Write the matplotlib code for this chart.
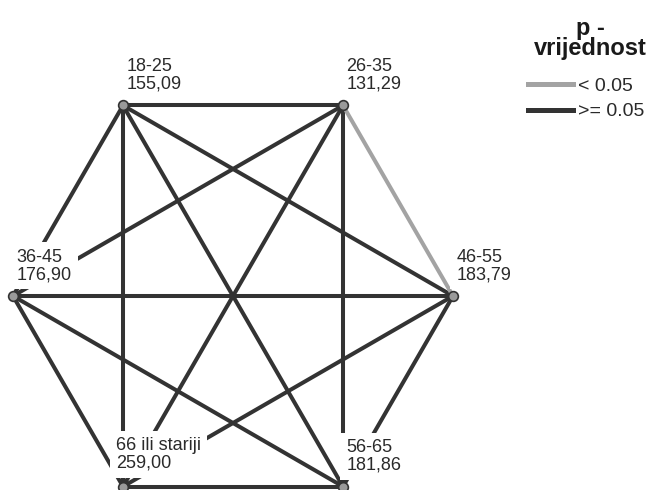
import itertools
import numpy as np
import matplotlib
matplotlib.use("Agg")
import matplotlib.pyplot as plt
from matplotlib.lines import Line2D

plt.rcParams["font.family"] = ["Liberation Sans", "DejaVu Sans"]

# grupe redom po vrhovima sesterokuta (gore lijevo, u smjeru kazaljke)
grupe = ["18-25", "26-35", "46-55", "56-65", "66 ili stariji", "36-45"]
srednji_rang = [155.09, 131.29, 183.79, 181.86, 259.00, 176.90]
znacajni = [("26-35", "46-55")]   # p < 0.05

TAMNA = "#333333"
SIVA = "#a3a3a3"

fig = plt.figure(figsize=(6.54, 4.9), dpi=100)
ax = fig.add_axes([0, 0, 1, 1])
ax.set_xlim(0, 654)
ax.set_ylim(490, 0)
ax.axis("off")

# raspored vrhova: pravilni sesterokut
centar = np.array([233.0, 296.0])
r = 220.0
kutovi = np.deg2rad([120, 60, 0, -60, -120, 180])
pos = {g: centar + r * np.array([np.cos(a), -np.sin(a)]) for g, a in zip(grupe, kutovi)}

for a, b in itertools.combinations(grupe, 2):
    sig = (a, b) in znacajni or (b, a) in znacajni
    (x1, y1), (x2, y2) = pos[a], pos[b]
    ax.plot([x1, x2], [y1, y2], color=SIVA if sig else TAMNA, lw=2.9,
            solid_capstyle="butt", zorder=1 if not sig else 1.5)

pomak_x = {"66 ili stariji": -7}
pomak_y = {"66 ili stariji": -15}
for g, v in zip(grupe, srednji_rang):
    x, y = pos[g]
    ax.text(x + pomak_x.get(g, 3.5), y + pomak_y.get(g, -13),
            f"{g}\n{v:.2f}".replace(".", ","),
            ha="left", va="bottom", fontsize=13, color="#2a2a2a",
            linespacing=1.02,
            bbox=dict(boxstyle="square,pad=0.35", fc="white", ec="none"),
            zorder=3)
    ax.plot(x, y, "o", ms=7, mfc="#9a9a9a", mec="#333333", mew=1.2,
            zorder=4, clip_on=False)

# legenda
ax.text(590, 60, "p -\nvrijednost", ha="center", va="bottom", fontsize=17,
        fontweight="bold", linespacing=0.85, color="#1a1a1a")
rucke = [Line2D([], [], color=SIVA, lw=3.6), Line2D([], [], color=TAMNA, lw=3.6)]
fig.legend(rucke, ["< 0.05", ">= 0.05"], loc="upper left",
           bbox_to_anchor=(528 / 654, 1 - 77 / 490), frameon=False,
           fontsize=14, handlelength=2.3, handletextpad=0.25,
           labelspacing=0.42, borderaxespad=0, borderpad=0,
           labelcolor="#2a2a2a")

fig.savefig("out.png", dpi=100)
